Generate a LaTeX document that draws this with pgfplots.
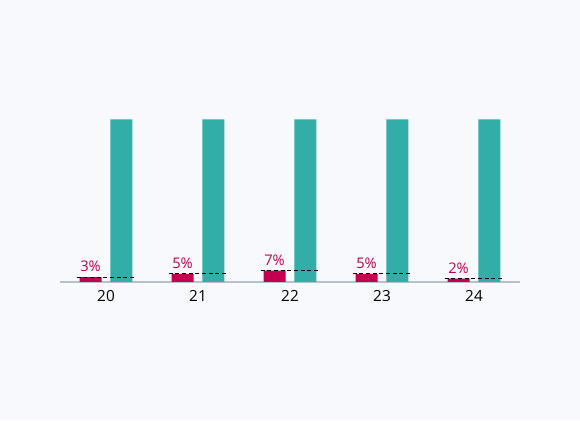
\documentclass[border=0pt]{standalone}
\usepackage{fontspec}
\setmainfont{Open Sans}
\usepackage{pgfplots}
\pgfplotsset{compat=1.18}
\definecolor{bg}{HTML}{F7F9FD}
\definecolor{crim}{HTML}{C2004F}
\definecolor{teal2}{HTML}{33ADA8}
\definecolor{base}{HTML}{B8C0C8}
\begin{document}
\begin{tikzpicture}
\fill[bg] (-45pt,-103.5pt) rectangle (390pt,211.5pt);
\begin{axis}[
    at={(0,0)}, anchor=south west,
    scale only axis,
    width=345pt, height=121.875pt,
    xmin=-0.5, xmax=4.5,
    ymin=0, ymax=100,
    axis y line=none,
    axis x line*=bottom,
    x axis line style={base, line width=1.2pt, -},
    xtick={0,1,2,3,4},
    xticklabels={20,21,22,23,24},
    major tick length=0pt,
    xticklabel style={font=\fontsize{11.5}{13}\selectfont, text=black, yshift=-2.5pt},
    /pgf/number format/assume math mode=true,
    clip=false,
    ybar, bar width=16.5pt,
]
\addplot[fill=crim, draw=none, bar shift=-11.6pt,
    nodes near coords={\pgfmathprintnumber{\pgfplotspointmeta}\%},
    nodes near coords style={text=crim, font=\fontsize{11}{13}\selectfont, yshift=0.5pt}]
    coordinates {(0,3) (1,5) (2,7) (3,5) (4,2)};
\addplot[fill=teal2, draw=none, bar shift=11.6pt]
    coordinates {(0,100) (1,100) (2,100) (3,100) (4,100)};
\addplot[sharp plot, black, dash pattern=on 3pt off 2pt, line width=0.6pt] coordinates {(-0.32,3) (0.32,3)};
\addplot[sharp plot, black, dash pattern=on 3pt off 2pt, line width=0.6pt] coordinates {(0.68,5) (1.32,5)};
\addplot[sharp plot, black, dash pattern=on 3pt off 2pt, line width=0.6pt] coordinates {(1.68,7) (2.32,7)};
\addplot[sharp plot, black, dash pattern=on 3pt off 2pt, line width=0.6pt] coordinates {(2.68,5) (3.32,5)};
\addplot[sharp plot, black, dash pattern=on 3pt off 2pt, line width=0.6pt] coordinates {(3.68,2) (4.32,2)};
\end{axis}
\end{tikzpicture}
\end{document}
